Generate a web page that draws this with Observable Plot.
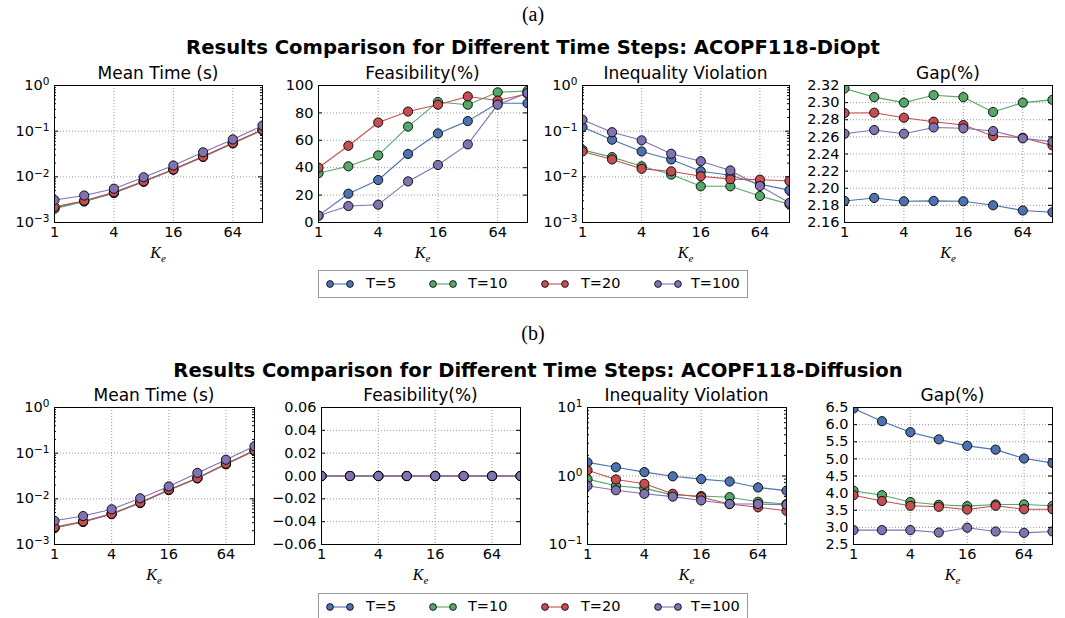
<!DOCTYPE html>
<html>
<head>
<meta charset="utf-8">
<script src="https://cdn.jsdelivr.net/npm/d3@7"></script>
<script src="https://cdn.jsdelivr.net/npm/@observablehq/plot@0.6"></script>
<style>
  html, body { margin: 0; padding: 0; background: #fff; }
  #root { position: relative; width: 1065px; height: 618px; overflow: hidden; background: #fff; }
  .abs { position: absolute; white-space: nowrap; }
  .c { transform: translate(-50%, -50%); }
  .tag { font-family: "Liberation Serif", serif; font-size: 20px; }
  .main { font-family: "DejaVu Sans", sans-serif; font-weight: bold; font-size: 19.6px; }
  .ptitle { font-family: "DejaVu Sans", sans-serif; font-size: 17px; }
  .xlab { font-family: "Liberation Serif", serif; font-size: 16px; font-style: italic; }
  .xlab sub { font-size: 11px; }
  .legend { border: 1px solid #999; box-sizing: border-box; background: #fff; font-family: "DejaVu Sans", sans-serif; font-size: 14.5px; }
</style>
</head>
<body>
<div id="root"></div>
<script>
// ---------------- data ----------------
const Ke = [1, 2, 4, 8, 16, 32, 64, 128];
const seriesNames = ["T=5", "T=10", "T=20", "T=100"];
const seriesColors = ["#4C72B0", "#55A868", "#C44E52", "#8172B2"];
const xTickValues = [1, 4, 16, 64];

// (a) ACOPF118-DiOpt  — rows: T=5, T=10, T=20, T=100
const meanTimeA = [
  [0.0021, 0.0029, 0.0044, 0.0078, 0.0143, 0.0272, 0.054, 0.105],
  [0.0020, 0.0029, 0.0045, 0.0079, 0.0146, 0.0280, 0.055, 0.108],
  [0.0022, 0.0030, 0.0046, 0.0080, 0.0145, 0.0277, 0.055, 0.107],
  [0.0031, 0.0039, 0.0055, 0.0098, 0.0177, 0.0345, 0.066, 0.133]
];
const feasibilityA = [
  [5, 21, 31, 50, 65, 74, 87, 87],
  [36, 41, 49, 70, 88, 86, 95, 96],
  [40, 56, 73, 81, 86, 92, 89, 94],
  [5, 12, 13, 30, 42, 57, 86, 94.5]
];
const ineqA = [
  [0.123, 0.065, 0.036, 0.024, 0.0132, 0.0108, 0.0069, 0.0051],
  [0.039, 0.027, 0.017, 0.0112, 0.0062, 0.0062, 0.0038, 0.0025],
  [0.036, 0.024, 0.015, 0.0132, 0.0103, 0.0089, 0.0087, 0.0081],
  [0.178, 0.095, 0.063, 0.032, 0.022, 0.0138, 0.0063, 0.0027]
];
const gapA = [
  [2.1852, 2.1887, 2.1848, 2.1852, 2.1848, 2.1801, 2.1740, 2.1720],
  [2.3165, 2.3064, 2.3000, 2.3087, 2.3064, 2.2890, 2.3000, 2.3033],
  [2.2878, 2.2882, 2.2823, 2.2777, 2.2738, 2.2610, 2.2590, 2.2500],
  [2.2637, 2.2680, 2.2637, 2.2710, 2.2700, 2.2668, 2.2583, 2.2544]
];

// (b) ACOPF118-Diffusion
const meanTimeB = [
  [0.0023, 0.0031, 0.0046, 0.0081, 0.0155, 0.0280, 0.057, 0.112],
  [0.0023, 0.0032, 0.0047, 0.0082, 0.0157, 0.0283, 0.058, 0.113],
  [0.0024, 0.0032, 0.0047, 0.0083, 0.0159, 0.0286, 0.059, 0.115],
  [0.0033, 0.0042, 0.0059, 0.0103, 0.0187, 0.0370, 0.072, 0.142]
];
const feasibilityB = [
  [0, 0, 0, 0, 0, 0, 0, 0],
  [0, 0, 0, 0, 0, 0, 0, 0],
  [0, 0, 0, 0, 0, 0, 0, 0],
  [0, 0, 0, 0, 0, 0, 0, 0]
];
const ineqB = [
  [1.58, 1.34, 1.14, 0.99, 0.90, 0.83, 0.68, 0.61],
  [0.90, 0.72, 0.66, 0.53, 0.51, 0.49, 0.42, 0.39],
  [1.21, 0.89, 0.77, 0.55, 0.49, 0.39, 0.35, 0.31],
  [0.72, 0.62, 0.55, 0.50, 0.44, 0.39, 0.39, 0.38]
];
const gapB = [
  [6.47, 6.10, 5.78, 5.57, 5.38, 5.27, 5.01, 4.88],
  [4.07, 3.94, 3.74, 3.66, 3.62, 3.67, 3.67, 3.63],
  [3.94, 3.77, 3.63, 3.60, 3.52, 3.63, 3.53, 3.53],
  [2.92, 2.92, 2.92, 2.85, 2.99, 2.88, 2.84, 2.88]
];

// tick labels
const feasTicksA = [0, 20, 40, 60, 80, 100];
const gapTicksA = [2.16, 2.18, 2.20, 2.22, 2.24, 2.26, 2.28, 2.30, 2.32];
const feasTicksB = [-0.06, -0.04, -0.02, 0, 0.02, 0.04, 0.06];
const gapTicksB = [2.5, 3.0, 3.5, 4.0, 4.5, 5.0, 5.5, 6.0, 6.5];

// ---------------- helpers ----------------
const root = document.getElementById("root");
function addText(cls, html, x, y) {
  const d = document.createElement("div");
  d.className = "abs c " + cls;
  d.style.left = x + "px";
  d.style.top = y + "px";
  d.innerHTML = html;
  root.appendChild(d);
}
const logFmt = d => "10^" + String(Math.round(Math.log10(d))).replace("-", "\u2212");
const minusFmt = k => d => (d < 0 ? "\u2212" : "") + Math.abs(d).toFixed(k);

function tidy(rows) {
  const out = [];
  rows.forEach((vals, s) => vals.forEach((v, i) => out.push({k: Ke[i], v, s})));
  return out;
}

function panel({left, top, w, h, rows, yType, yDomain, yTicks, yFormat, title, ml = 60}) {
  const mr = 14, mt = 10, mb = 24;
  const data = tidy(rows);
  const minor = yType === "log"
    ? d3.scaleLog().domain(yDomain).ticks().filter(t => !yTicks.some(m => Math.abs(m - t) / t < 1e-9))
    : [];
  const marks = [
    Plot.gridX(xTickValues, {stroke: "#999", strokeOpacity: 1, strokeWidth: 1, strokeDasharray: "1,2"}),
    Plot.gridY(yTicks, {stroke: "#999", strokeOpacity: 1, strokeWidth: 1, strokeDasharray: "1,2"}),
    Plot.ruleY(yTicks, {y: d => d, insetRight: w - 4, stroke: "black"}),
    Plot.ruleY(yTicks, {y: d => d, insetLeft: w - 4, stroke: "black"}),
    Plot.ruleY(minor, {y: d => d, insetRight: w - 2, stroke: "black"}),
    Plot.ruleY(minor, {y: d => d, insetLeft: w - 2, stroke: "black"})
  ];
  seriesNames.forEach((name, s) => {
    const sd = data.filter(d => d.s === s);
    marks.push(Plot.line(sd, {x: "k", y: "v", stroke: seriesColors[s], strokeWidth: 1.1, clip: true}));
    marks.push(Plot.dot(sd, {x: "k", y: "v", r: 4.6, fill: seriesColors[s], stroke: "black", strokeWidth: 0.9, clip: true}));
  });
  marks.push(Plot.frame({stroke: "black", strokeWidth: 1}));
  const svg = Plot.plot({
    width: ml + w + mr,
    height: mt + h + mb,
    marginLeft: ml, marginRight: mr, marginTop: mt, marginBottom: mb,
    x: {type: "log", base: 2, domain: [1, 128], ticks: xTickValues, tickFormat: d => String(d), tickSize: 0, tickPadding: 4, label: null},
    y: {type: yType, domain: yDomain, ticks: yTicks, tickFormat: yFormat, tickSize: 0, tickPadding: 5, label: null},
    style: {fontFamily: "DejaVu Sans", fontSize: "14.5px", color: "black", background: "transparent", overflow: "visible"},
    marks
  });
  // render "10^k" labels with a real superscript
  svg.querySelectorAll("text").forEach(t => {
    const s = t.textContent;
    if (s.startsWith("10^")) {
      const exp = s.slice(3);
      t.textContent = "10";
      const ts = document.createElementNS("http://www.w3.org/2000/svg", "tspan");
      ts.setAttribute("dy", "-0.45em");
      ts.setAttribute("font-size", "10.5px");
      ts.textContent = exp;
      t.appendChild(ts);
    }
  });
  svg.style.position = "absolute";
  svg.style.left = (left - ml) + "px";
  svg.style.top = (top - mt) + "px";
  root.appendChild(svg);
  addText("ptitle", title, left + w / 2, top - 12);
  addText("xlab", "K<sub>e</sub>", left + w / 2, top + h + 32);
}

function legend(top) {
  const box = document.createElement("div");
  box.className = "abs legend";
  box.style.left = "318px";
  box.style.top = top + "px";
  box.style.width = "430px";
  box.style.height = "28px";
  const glyphX = [7, 110, 222, 335];
  const textX = [47, 149, 262, 372];
  seriesNames.forEach((name, s) => {
    const g = document.createElementNS("http://www.w3.org/2000/svg", "svg");
    g.setAttribute("width", 28); g.setAttribute("height", 12);
    g.style.position = "absolute"; g.style.left = glyphX[s] + "px"; g.style.top = "7px";
    g.innerHTML = `<line x1="4" y1="6" x2="24" y2="6" stroke="${seriesColors[s]}" stroke-width="1.1"/>` +
      `<circle cx="4" cy="6" r="3.4" fill="${seriesColors[s]}" stroke="black" stroke-width="0.8"/>` +
      `<circle cx="24" cy="6" r="3.4" fill="${seriesColors[s]}" stroke="black" stroke-width="0.8"/>`;
    box.appendChild(g);
    const t = document.createElement("div");
    t.className = "abs";
    t.style.left = textX[s] + "px";
    t.style.top = "4px";
    t.textContent = name;
    box.appendChild(t);
  });
  root.appendChild(box);
}

// ---------------- layout ----------------
addText("tag", "(a)", 533, 14);
addText("main", "Results Comparison for Different Time Steps: ACOPF118-DiOpt", 533, 47);
const topA = 85, hA = 137;
panel({left: 54, top: topA, w: 208, h: hA, rows: meanTimeA, yType: "log", yDomain: [1e-3, 1], yTicks: [1e-3, 1e-2, 1e-1, 1], yFormat: logFmt, title: "Mean Time (s)"});
panel({left: 318, top: topA, w: 209, h: hA, rows: feasibilityA, yType: "linear", yDomain: [0, 100], yTicks: feasTicksA, yFormat: d => String(d), title: "Feasibility(%)"});
panel({left: 582, top: topA, w: 207, h: hA, rows: ineqA, yType: "log", yDomain: [1e-3, 1], yTicks: [1e-3, 1e-2, 1e-1, 1], yFormat: logFmt, title: "Inequality Violation"});
panel({left: 844, top: topA, w: 208, h: hA, rows: gapA, yType: "linear", yDomain: [2.16, 2.32], yTicks: gapTicksA, yFormat: d => d.toFixed(2), title: "Gap(%)"});
legend(270);

addText("tag", "(b)", 533, 333);
addText("main", "Results Comparison for Different Time Steps: ACOPF118-Diffusion", 538, 370);
const topB = 407, hB = 137;
panel({left: 54, top: topB, w: 200, h: hB, rows: meanTimeB, yType: "log", yDomain: [1e-3, 1], yTicks: [1e-3, 1e-2, 1e-1, 1], yFormat: logFmt, title: "Mean Time (s)"});
panel({left: 321, top: topB, w: 199, h: hB, rows: feasibilityB, yType: "linear", yDomain: [-0.06, 0.06], yTicks: feasTicksB, yFormat: minusFmt(2), title: "Feasibility(%)"});
panel({left: 587, top: topB, w: 199, h: hB, rows: ineqB, yType: "log", yDomain: [0.1, 10], yTicks: [0.1, 1, 10], yFormat: logFmt, title: "Inequality Violation"});
panel({left: 853, top: topB, w: 199, h: hB, rows: gapB, yType: "linear", yDomain: [2.5, 6.5], yTicks: gapTicksB, yFormat: d => d.toFixed(1), title: "Gap(%)"});
legend(593);
</script>
</body>
</html>
